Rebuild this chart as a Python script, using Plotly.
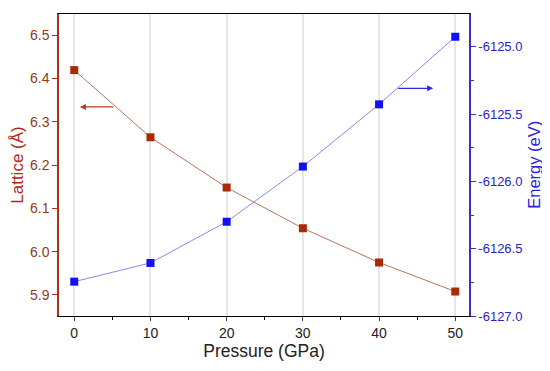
import plotly.graph_objects as go

pressure = [0, 10, 20, 30, 40, 50]
lattice = [6.419, 6.264, 6.148, 6.054, 5.975, 5.908]
energy = [-6126.745, -6126.606, -6126.30, -6125.89, -6125.428, -6124.926]

red_ax = "#a8321a"
red_txt = "#8e3a1c"
blue_ax = "#3a2fc0"
blue_txt = "#2a22c8"
font = "Liberation Sans, Arial, sans-serif"

fig = go.Figure()
fig.add_trace(go.Scatter(
    x=pressure, y=lattice, mode="lines+markers",
    line=dict(color="#b8735a", width=1),
    marker=dict(symbol="square", size=8, color="#a82a06"),
    yaxis="y", showlegend=False))
fig.add_trace(go.Scatter(
    x=pressure, y=energy, mode="lines+markers",
    line=dict(color="#8c88e8", width=1),
    marker=dict(symbol="square", size=8, color="#1010f0"),
    yaxis="y2", showlegend=False))

fig.add_annotation(x=0.75, y=6.334, ax=5.34, ay=6.334, xref="x", yref="y",
                   axref="x", ayref="y", showarrow=True, arrowhead=2,
                   arrowsize=1, arrowwidth=1.2, arrowcolor="#b0401a", text="")
fig.add_annotation(x=47.1, y=-6125.309, ax=42.3, ay=-6125.309, xref="x", yref="y2",
                   axref="x", ayref="y2", showarrow=True, arrowhead=2,
                   arrowsize=1, arrowwidth=1.2, arrowcolor="#2a2ae0", text="")
# right axis title
fig.add_annotation(text="Energy (eV)", xref="paper", yref="paper", x=1.158, y=0.5,
                   xanchor="center", yanchor="middle", textangle=-90, showarrow=False,
                   font=dict(size=16.5, color="#2a22d0"))

# page body has an 8px margin, so the figure is drawn 8px lower and to the right
fig.update_layout(
    width=542, height=363,
    margin=dict(l=51, r=81, t=6, b=55, autoexpand=False),
    plot_bgcolor="white", paper_bgcolor="white",
    font=dict(family=font, size=13, color="#222"),
    xaxis=dict(range=[-2, 51.8], tickvals=pressure, ticks="outside", ticklen=4,
               showgrid=True, gridcolor="#e6e6e6", gridwidth=1.5,
               showline=True, linecolor="black", linewidth=1.2, mirror=True,
               zeroline=False,
               minor=dict(tickvals=[5, 15, 25, 35, 45], ticks="outside", ticklen=3, tickcolor="black"),
               tickfont=dict(size=14, color="#222"),
               title=dict(text="Pressure (GPa)", font=dict(size=17.5, color="#222"), standoff=4)),
    yaxis=dict(range=[5.8515, 6.5485], tickvals=[5.9, 6.0, 6.1, 6.2, 6.3, 6.4, 6.5],
               ticktext=["5.9", "6.0", "6.1", "6.2", "6.3", "6.4", "6.5"],
               ticks="outside", ticklen=5, tickcolor=red_ax,
               showgrid=False, zeroline=False,
               showline=True, linecolor=red_ax, linewidth=1.5,
               tickfont=dict(size=14, color=red_txt),
               title=dict(text="Lattice (Å)", font=dict(size=17, color="#b02818"), standoff=8)),
    yaxis2=dict(range=[-6127.0, -6124.757], overlaying="y", side="right",
                tickvals=[-6127.0, -6126.5, -6126.0, -6125.5, -6125.0],
                ticktext=["-6127.0", "-6126.5", "-6126.0", "-6125.5", "-6125.0"],
                ticks="outside", ticklen=5, tickcolor=blue_ax,
                minor=dict(tickvals=[-6126.75, -6126.25, -6125.75, -6125.25], ticks="outside",
                           ticklen=3, tickcolor=blue_ax),
                showgrid=False, zeroline=False,
                showline=True, linecolor=blue_ax, linewidth=1.5,
                tickfont=dict(size=13, color=blue_txt)),
)

fig.write_html("out.html")
